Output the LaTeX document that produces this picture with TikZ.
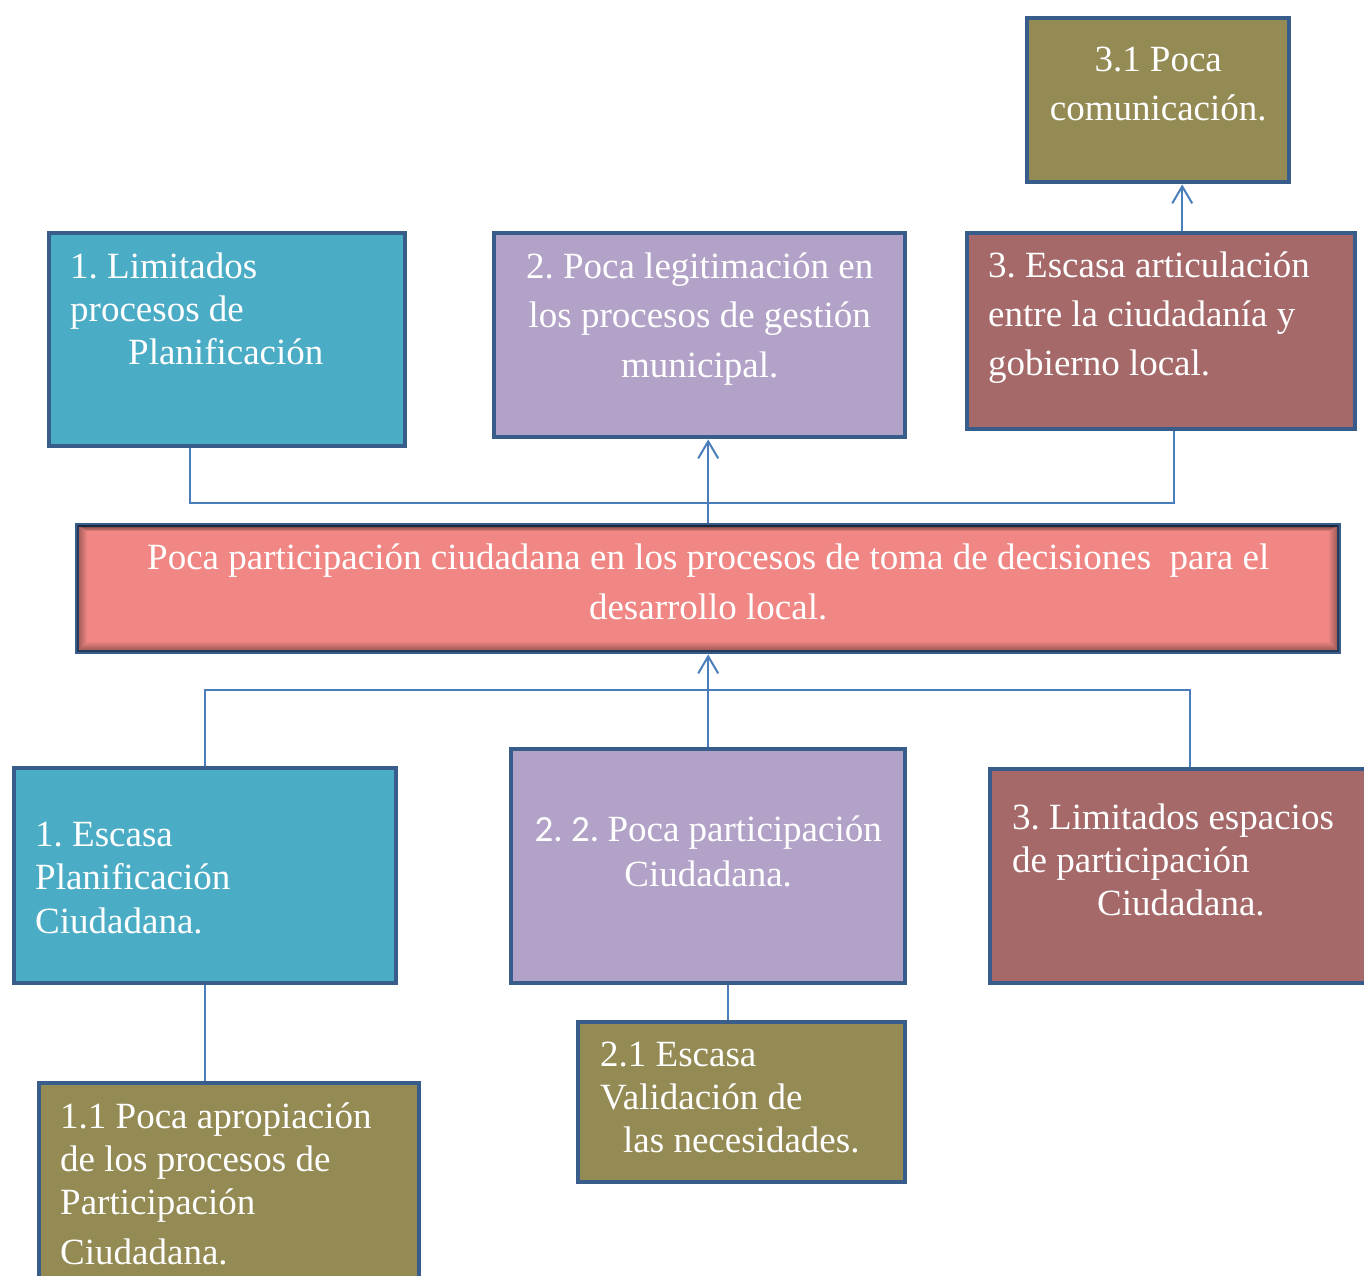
\documentclass[tikz,border=0pt]{standalone}
\usepackage{fontspec}
\setmainfont{Liberation Serif}
\newfontfamily\numfont{Carlito}
\usepackage{tikz}
\usetikzlibrary{arrows.meta}
\frenchspacing

\definecolor{cteal}{HTML}{4BACC6}
\definecolor{clila}{HTML}{B2A2C7}
\definecolor{crosa}{HTML}{A5696A}
\definecolor{coliva}{HTML}{948A54}
\definecolor{csalmon}{HTML}{F08784}
\definecolor{cborde}{HTML}{385D8A}
\definecolor{clinea}{HTML}{4A7EBB}

\newcommand{\fs}[1]{\fontsize{18.5}{#1}\selectfont}

\begin{document}
\begin{tikzpicture}[x=0.5pt,y=-0.5pt,
	box/.style={draw=cborde, line width=2.2pt, anchor=north west, inner ysep=0pt, inner xsep=10.5pt, text=white, align=flush left, font=\fs{21.5}},
	link/.style={draw=clinea, line width=1pt},
	arrow/.style={link, -{Straight Barb[length=8.5pt,width=10pt]}}]
\useasboundingbox (0,0) rectangle (1364,1275);

\node[box, fill=coliva, inner xsep=8pt, text width=115pt, align=flush center, text height=26.5pt, text depth=55.5pt, font=\fs{24.5}] (e31) at (1025,16) {3.1 Poca\\comunicación.};
\node[box, fill=cteal, text width=157pt, text height=22.5pt, text depth=84pt] (e1) at (47,231) {1. Limitados\\procesos de\\\hspace*{29pt}Planificación};
\node[box, fill=clila, inner xsep=10pt, text width=185.5pt, align=flush center, text height=22.5pt, text depth=79.5pt, font=\fs{24.75}] (e2) at (492,231) {2. Poca legitimación en\\los procesos de gestión\\municipal.};
\node[box, fill=crosa, text width=173pt, text height=22pt, text depth=76pt, font=\fs{24.5}] (e3) at (965,231) {3. Escasa articulación\\entre la ciudadanía y\\gobierno local.};

\node[box, fill=csalmon, inner xsep=10pt, text width=611pt, align=flush center, text height=22pt, text depth=41.5pt, font=\fs{25}] (prob) at (75,523) {Poca participación ciudadana en los procesos de toma de decisiones\ \ para el\\desarrollo local.};
\foreach \k [evaluate=\k as \op using 0.4*(1-\k/11)] in {1,...,10}
	\draw[black, line width=0.55pt, opacity=\op] ([xshift=\k*0.5pt+0.9pt, yshift=\k*0.5pt+0.9pt]prob.south west) rectangle ([xshift=-\k*0.5pt-0.9pt, yshift=-\k*0.3pt-0.9pt]prob.north east);

\node[box, fill=cteal, text width=170pt, text height=39pt, text depth=68.5pt, font=\fs{21.75}] (c1) at (12,766) {1. Escasa\\Planificación\\Ciudadana.};
\node[box, fill=clila, inner xsep=8pt, text width=181pt, align=flush center, text height=46pt, text depth=71pt, font=\fs{22.5}] (c2) at (509,747) {{\numfont 2. 2. }Poca participación\\Ciudadana.};
\node[box, fill=crosa, inner xsep=11pt, text width=178pt, text height=30pt, text depth=77pt] (c3) at (988,767) {3. Limitados espacios\\de participación\\\hspace*{42.5pt}Ciudadana.};
\node[box, fill=coliva, text width=169pt, text height=22.5pt, text depth=85pt] (c11) at (37,1081) {1.1 Poca apropiación\\de los procesos de\\Participación\\[3.5pt]Ciudadana.};
\node[box, fill=coliva, inner xsep=11pt, text width=141.5pt, text height=22pt, text depth=58pt] (c21) at (576,1020) {2.1 Escasa\\Validación de\\\hspace*{11.5pt}las necesidades.};

\coordinate (jtop) at (706,503);
\coordinate (jbot) at (706,690);
\draw[link] ([xshift=-18.5pt]e1.south) |- (jtop) -| ([xshift=6.5pt]e3.south);
\draw[arrow] (prob.north) -- (prob.north |- e2.south);
\draw[arrow] ([xshift=10.5pt]e3.north) -- ([xshift=10.5pt]e3.north |- e31.south);
\draw[link] (c1.north) |- (jbot) -| (c3.north);
\draw[arrow] (c2.north) -- (c2.north |- prob.south);
\draw[link] (c1.south) -- (c1.south |- c11.north);
\draw[link] ([xshift=10pt]c2.south) -- ([xshift=10pt]c2.south |- c21.north);
\end{tikzpicture}
\end{document}
